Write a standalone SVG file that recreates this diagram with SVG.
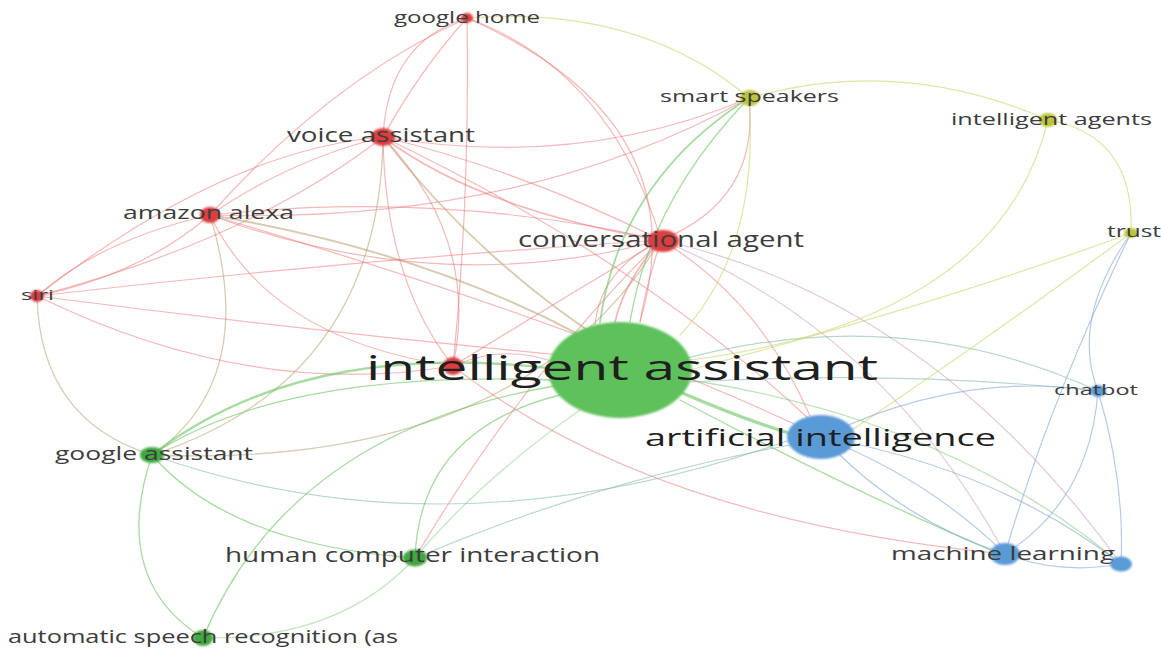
<svg xmlns="http://www.w3.org/2000/svg" width="1161" height="648" viewBox="0 0 1161 648">
<defs>
<filter id="soft" x="-50%" y="-50%" width="200%" height="200%"><feGaussianBlur stdDeviation="0.9"/></filter>
<style>
.e{fill:none;stroke-linecap:round}
.er{stroke:#ec7373;stroke-opacity:.5;stroke-width:1.2}
.eo{stroke:#b9a272;stroke-opacity:.55;stroke-width:1.3}
.em{stroke:#c894b4;stroke-opacity:.5;stroke-width:1.2}
.eg{stroke:#6cc463;stroke-opacity:.6;stroke-width:1.3}
.egb{stroke:#7fb7a8;stroke-opacity:.55;stroke-width:1.2}
.ey{stroke:#ccd46a;stroke-opacity:.6;stroke-width:1.2}
.eb{stroke:#86a8d8;stroke-opacity:.6;stroke-width:1.2}
.nr{fill:#de3c40}
.ng{fill:#3fa83f}
.nG{fill:#5fc15c}
.nb{fill:#5a9ad6}
.ny{fill:#bcc43a}
.t{font-family:"Open Sans","DejaVu Sans",sans-serif;fill:#3c3c3c}
.T{font-family:"Open Sans","DejaVu Sans",sans-serif;fill:#1f1f1f}
</style>
</defs>
<rect width="1161" height="648" fill="#ffffff"/>
<g id="connectors">
<path class="e er" d="M467,18 Q388,42 383,137"/>
<path class="e er" d="M467,18 Q420,70 383,137"/>
<path class="e er" d="M467,18 Q330,80 210,215"/>
<path class="e er" d="M467,18 Q470,200 453,366"/>
<path class="e er" d="M467,18 Q610,70 661,240"/>
<path class="e er" d="M467,18 Q700,120 640,322"/>
<path class="e ey" d="M467,18 Q640,5 749,98"/>
<path class="e er" d="M383,137 Q290,160 210,215"/>
<path class="e er" d="M383,137 Q225,150 37,296"/>
<path class="e er" style="stroke-width:1.6" d="M383,137 Q480,210 661,240"/>
<path class="e er" d="M383,137 Q520,170 661,240"/>
<path class="e er" d="M383,137 Q580,170 749,98"/>
<path class="e er" d="M383,137 Q385,280 453,366"/>
<path class="e er" d="M383,137 Q480,240 453,366"/>
<path class="e er" d="M383,137 Q640,260 810,420"/>
<path class="e er" d="M210,215 Q140,275 37,296"/>
<path class="e er" d="M210,215 Q100,240 37,296"/>
<path class="e er" d="M210,215 Q440,190 661,240"/>
<path class="e er" d="M210,215 Q440,300 661,240"/>
<path class="e er" d="M210,215 Q270,340 453,366"/>
<path class="e eo" d="M210,215 Q260,380 152,455"/>
<path class="e er" d="M210,215 Q520,225 749,98"/>
<path class="e er" d="M37,296 Q250,240 383,137"/>
<path class="e er" d="M37,296 Q350,260 661,240"/>
<path class="e er" d="M37,296 Q250,400 453,366"/>
<path class="e er" d="M37,296 Q300,330 560,355"/>
<path class="e eo" d="M37,296 Q40,420 152,455"/>
<path class="e eo" d="M383,137 Q380,380 152,455"/>
<path class="e er" style="stroke-width:1.8" d="M661,240 Q625,280 615,322"/>
<path class="e er" d="M661,240 Q645,290 640,322"/>
<path class="e er" d="M661,240 Q600,270 595,325"/>
<path class="e er" d="M661,240 Q760,300 810,416"/>
<path class="e em" d="M661,240 Q880,330 1000,545"/>
<path class="e em" d="M661,240 Q930,300 1121,564"/>
<path class="e er" d="M661,240 Q560,300 453,366"/>
<path class="e er" d="M661,240 Q520,380 415,558"/>
<path class="e eo" d="M661,240 Q520,470 152,455"/>
<path class="e er" d="M749,98 Q760,200 661,240"/>
<path class="e er" d="M453,366 Q650,520 1005,554"/>
<path class="e er" d="M453,366 Q500,345 548,360"/>
<path class="e er" d="M210,215 Q600,330 822,437"/>
<path class="e eg" style="stroke-width:2.4" d="M548,368 Q300,340 152,455"/>
<path class="e eg" d="M552,380 Q280,370 152,455"/>
<path class="e eg" d="M560,395 Q420,430 415,558"/>
<path class="e eg" style="stroke-opacity:.4" d="M580,410 Q480,480 415,558"/>
<path class="e eg" d="M560,385 Q290,430 203,638"/>
<path class="e eg" style="stroke-width:3.2" d="M680,392 Q745,420 792,434"/>
<path class="e eg" d="M680,400 Q850,490 995,552"/>
<path class="e eg" style="stroke-opacity:.45" d="M690,380 Q950,420 1121,564"/>
<path class="e egb" d="M680,360 Q900,300 1098,391"/>
<path class="e egb" d="M690,382 Q900,370 1098,391"/>
<path class="e eg" style="stroke-width:1.8" d="M600,322 Q620,180 749,98"/>
<path class="e eg" d="M630,322 Q650,200 749,98"/>
<path class="e eg" d="M152,455 Q230,545 415,558"/>
<path class="e eg" d="M152,455 Q110,580 203,638"/>
<path class="e eg" style="stroke-opacity:.4" d="M415,558 Q340,640 203,638"/>
<path class="e egb" d="M415,558 Q600,480 790,445"/>
<path class="e egb" d="M152,455 Q450,560 790,440"/>
<path class="e eo" style="stroke-width:2" d="M383,137 Q470,250 590,332"/>
<path class="e eo" style="stroke-width:2" d="M210,215 Q420,250 580,335"/>
<path class="e ey" d="M749,98 Q900,55 1048,120"/>
<path class="e ey" d="M1048,120 Q1135,135 1131,233"/>
<path class="e ey" d="M1048,120 Q1000,320 690,360"/>
<path class="e ey" d="M1131,233 Q950,300 690,370"/>
<path class="e ey" d="M1131,233 Q1000,330 852,430"/>
<path class="e ey" d="M749,98 Q760,250 680,335"/>
<path class="e eb" d="M1131,233 Q1050,400 1005,554"/>
<path class="e eb" d="M1131,233 Q1070,320 1098,391"/>
<path class="e eb" d="M822,437 Q960,370 1098,391"/>
<path class="e eb" d="M822,437 Q930,480 1005,554"/>
<path class="e eb" d="M822,437 Q900,520 1005,554"/>
<path class="e eb" d="M822,437 Q1000,470 1121,564"/>
<path class="e eb" d="M1098,391 Q1090,500 1005,554"/>
<path class="e eb" d="M1098,391 Q1125,480 1121,564"/>
<path class="e eb" d="M1005,554 Q1060,575 1121,564"/>
</g>
<g id="node-intelligent-assistant"><ellipse class="nG" cx="620" cy="370" rx="72" ry="48" filter="url(#soft)"/></g>
<g id="node-hidden-red"><ellipse class="nr" cx="453" cy="366" rx="10" ry="9" filter="url(#soft)"/></g>
<g id="node-artificial-intelligence"><ellipse class="nb" cx="821" cy="437" rx="34" ry="22" filter="url(#soft)"/></g>
<g id="node-google-home"><ellipse class="nr" cx="467" cy="18" rx="6" ry="5" filter="url(#soft)"/><text class="t" x="394" y="23" font-size="16" textLength="146" lengthAdjust="spacingAndGlyphs">google home</text></g>
<g id="node-voice-assistant"><ellipse class="nr" cx="383" cy="137" rx="12" ry="9" filter="url(#soft)"/><text class="t" x="287" y="142" font-size="20" textLength="188" lengthAdjust="spacingAndGlyphs">voice assistant</text></g>
<g id="node-amazon-alexa"><ellipse class="nr" cx="210" cy="215" rx="10" ry="8" filter="url(#soft)"/><text class="t" x="123" y="219" font-size="19" textLength="171" lengthAdjust="spacingAndGlyphs">amazon alexa</text></g>
<g id="node-siri"><ellipse class="nr" cx="37" cy="296" rx="7" ry="6" filter="url(#soft)"/><text class="t" x="21" y="300" font-size="15" textLength="33" lengthAdjust="spacingAndGlyphs">siri</text></g>
<g id="node-conversational-agent"><ellipse class="nr" cx="663" cy="241" rx="16" ry="11" filter="url(#soft)"/><text class="t" x="518" y="247" font-size="21" textLength="286" lengthAdjust="spacingAndGlyphs">conversational agent</text></g>
<g id="node-smart-speakers"><ellipse class="ny" cx="750" cy="98" rx="10" ry="8" filter="url(#soft)"/><text class="t" x="660" y="102" font-size="17" textLength="179" lengthAdjust="spacingAndGlyphs">smart speakers</text></g>
<g id="node-intelligent-agents"><ellipse class="ny" cx="1048" cy="120" rx="9" ry="7" filter="url(#soft)"/><text class="t" x="951" y="125" font-size="16" textLength="201" lengthAdjust="spacingAndGlyphs">intelligent agents</text></g>
<g id="node-trust"><ellipse class="ny" cx="1131" cy="233" rx="7" ry="5" filter="url(#soft)"/><text class="t" x="1107" y="237" font-size="16" textLength="54" lengthAdjust="spacingAndGlyphs">trust</text></g>
<g id="node-google-assistant"><ellipse class="ng" cx="152" cy="455" rx="12" ry="8" filter="url(#soft)"/><text class="t" x="55" y="460" font-size="18" textLength="198" lengthAdjust="spacingAndGlyphs">google assistant</text></g>
<g id="node-human-computer-interaction"><ellipse class="ng" cx="415" cy="558" rx="12" ry="8.5" filter="url(#soft)"/><text class="t" x="225" y="562" font-size="20" textLength="375" lengthAdjust="spacingAndGlyphs">human computer interaction</text></g>
<g id="node-automatic-speech-recognition"><ellipse class="ng" cx="203" cy="638" rx="10" ry="8" filter="url(#soft)"/><text class="t" x="8" y="643" font-size="18" textLength="390" lengthAdjust="spacingAndGlyphs">automatic speech recognition (as</text></g>
<g id="node-chatbot"><ellipse class="nb" cx="1098" cy="391" rx="8" ry="6" filter="url(#soft)"/><text class="t" x="1054" y="395" font-size="15" textLength="84" lengthAdjust="spacingAndGlyphs">chatbot</text></g>
<g id="node-machine-learning"><ellipse class="nb" cx="1005" cy="554" rx="15" ry="11" filter="url(#soft)"/><text class="t" x="891" y="560" font-size="18" textLength="224" lengthAdjust="spacingAndGlyphs">machine learning</text></g>
<g id="node-blue-small"><ellipse class="nb" cx="1121" cy="564" rx="11" ry="7.5" filter="url(#soft)"/></g>
<g id="label-intelligent-assistant"><text class="T" x="366" y="380" font-size="35" textLength="512" lengthAdjust="spacingAndGlyphs">intelligent assistant</text></g>
<g id="label-artificial-intelligence"><text class="T" x="645" y="446" font-size="24" textLength="351" lengthAdjust="spacingAndGlyphs">artificial intelligence</text></g>
</svg>
